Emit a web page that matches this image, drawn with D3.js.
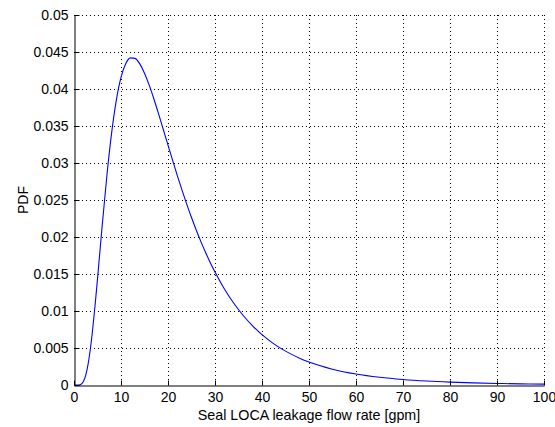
<!DOCTYPE html>
<html><head><meta charset="utf-8">
<script src="https://cdn.jsdelivr.net/npm/d3@7"></script>
<style>
html,body{margin:0;padding:0;background:#fff;}
text{font-family:"Liberation Sans",Arial,sans-serif;fill:#000;}
</style></head>
<body><svg id="c" width="555" height="427"></svg>
<script>
const flowRate = [0,1,1.5,2,2.5,3,3.5,4,4.5,5,6,7,8,9,10,11,12,13,14,15,16,17,18,19,20,21,22,23,24,25,26,27,28,29,30,32,34,36,38,40,42,44,46,48,50,55,60,65,70,75,80,85,90,95,100];
const pdf = [0,0.0000077,0.0001,0.000468,0.00133,0.002825,0.00497,0.0077,0.01087,0.01434,0.02155,0.02832,0.03404,0.03847,0.04156,0.04341,0.04421,0.04414,0.04339,0.04214,0.04052,0.03865,0.03663,0.03453,0.03241,0.03031,0.02827,0.0263,0.02441,0.02263,0.02095,0.01937,0.0179,0.01653,0.01526,0.01298,0.01104,0.00939,0.00799,0.0068,0.0058,0.00495,0.00424,0.00363,0.00311,0.00214,0.001486,0.001044,0.000741,0.000531,0.000384,0.000281,0.000207,0.000154,0.000115];
const xTicks = [0,10,20,30,40,50,60,70,80,90,100];
const yTicks = [0,0.005,0.01,0.015,0.02,0.025,0.03,0.035,0.04,0.045,0.05];
const xLabel = "Seal LOCA leakage flow rate [gpm]";
const yLabel = "PDF";

const svg = d3.select("#c");
const L=74, R=544, T=15, B=385;
const x = d3.scaleLinear().domain([0,100]).range([L,R]);
const y = d3.scaleLinear().domain([0,0.05]).range([B,T]);
const px = v => Math.round(v)+0.5;

// grid
const g = svg.append("g");
g.selectAll(".gx").data(xTicks.slice(1)).join("line")
  .attr("x1",d=>px(x(d))).attr("x2",d=>px(x(d))).attr("y1",T).attr("y2",B)
  .attr("stroke","#000").attr("stroke-width",1).attr("stroke-dasharray","1,3");
g.selectAll(".gy").data(yTicks.slice(1)).join("line")
  .attr("y1",d=>px(y(d))).attr("y2",d=>px(y(d))).attr("x1",L).attr("x2",R+1)
  .attr("stroke","#000").attr("stroke-width",1).attr("stroke-dasharray","1,3");

// curve
const line = d3.line().x((d,i)=>x(flowRate[i])).y(d=>y(d)).curve(d3.curveMonotoneX);
svg.append("path").attr("d",line(pdf)).attr("fill","none").attr("stroke","#0000ff").attr("stroke-width",1.1);

// axes
const xAxis = d3.axisBottom(x).tickValues(xTicks).tickSizeInner(-5).tickSizeOuter(0).tickPadding(7).tickFormat(d3.format("d"));
const yAxis = d3.axisLeft(y).tickValues(yTicks).tickSizeInner(-5).tickSizeOuter(0).tickPadding(6).tickFormat(d=>d===0?"0":String(+d.toFixed(3)));
const ax = svg.append("g").attr("transform",`translate(0,${B+0.5})`).call(xAxis);
const ay = svg.append("g").attr("transform",`translate(${L+0.5},0)`).call(yAxis);
[ax,ay].forEach(a=>{
  a.select(".domain").attr("stroke","#000");
  a.selectAll(".tick line").attr("stroke","#000");
  a.selectAll("text").attr("font-family","Liberation Sans, Arial, sans-serif").attr("font-size",14).attr("fill","#000");
});

svg.append("text").attr("x",(L+R)/2).attr("y",420).attr("text-anchor","middle").attr("font-size",14.3).text(xLabel);
svg.append("text").attr("transform",`translate(28,${(T+B)/2}) rotate(-90)`).attr("text-anchor","middle").attr("font-size",14).text(yLabel);
</script></body></html>
